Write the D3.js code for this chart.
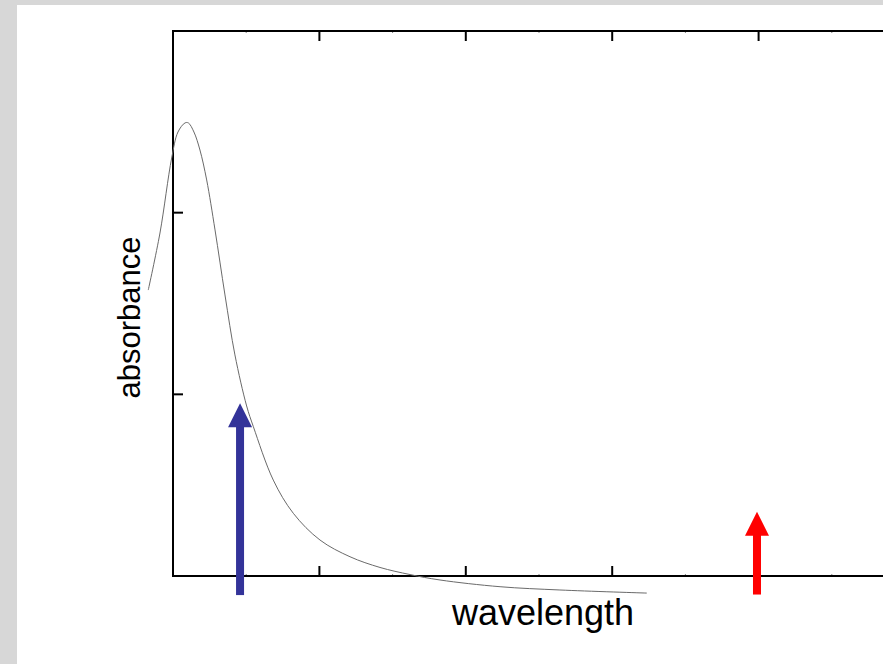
<!DOCTYPE html>
<html>
<head>
<meta charset="utf-8">
<script src="https://cdn.jsdelivr.net/npm/d3@7/dist/d3.min.js"></script>
<style>
  html, body { margin: 0; padding: 0; background: #d7d7d7; overflow: hidden; }
  #chart { position: absolute; left: 17px; top: 5px; width: 866px; height: 659px; background: #ffffff; }
</style>
</head>
<body>
<div id="chart"></div>
<script>
// absorbance spectrum (x and y in axis units)
var specX = [-0.169, -0.089, -0.009, 0.034, 0.082, 0.105, 0.143, 0.184, 0.230, 0.287, 0.355, 0.423,
  0.503, 0.549, 0.685, 0.822, 1.004, 1.209, 1.414, 1.619, 1.824, 2.234, 2.643, 3.236];
var specY = [1.574, 1.888, 2.301, 2.444, 2.494, 2.494, 2.444, 2.345, 2.180, 1.905, 1.547, 1.217,
  0.936, 0.822, 0.528, 0.345, 0.198, 0.106, 0.047, 0.008, -0.022, -0.059, -0.077, -0.094];

// the two excitation arrows
var arrowX = [0.458, 3.989];
var arrowTop = [0.951, 0.354];
var arrowBottom = [-0.105, -0.102];
var arrowColor = ["#333399", "#ff0000"];

var xTicks = [1, 2, 3, 4];
var xMinorTicks = [0.5, 1.5, 2.5, 3.5, 4.5];
var yTicks = [1, 2];
var xLabel = "wavelength";
var yLabel = "absorbance";

(function () {
  var width = 883, height = 664;
  var svg = d3.select("body").append("svg")
    .attr("width", width)
    .attr("height", height)
    .style("position", "absolute")
    .style("left", "0px")
    .style("top", "0px");

  var x = d3.scaleLinear().domain([0, 5]).range([173, 905]);
  var y = d3.scaleLinear().domain([0, 3]).range([576, 31]);

  var frame = svg.append("g")
    .attr("stroke", "#000")
    .attr("stroke-width", 2)
    .attr("fill", "none");

  frame.append("rect")
    .attr("x", x(0))
    .attr("y", y(3))
    .attr("width", x(5) - x(0))
    .attr("height", y(0) - y(3));

  // ticks on top and bottom edges, pointing in
  xTicks.forEach(function (t) {
    frame.append("line")
      .attr("x1", x(t)).attr("x2", x(t))
      .attr("y1", y(3)).attr("y2", y(3) + 10);
    frame.append("line")
      .attr("x1", x(t)).attr("x2", x(t))
      .attr("y1", y(0)).attr("y2", y(0) - 10);
  });

  // barely visible minor ticks
  xMinorTicks.forEach(function (t) {
    frame.append("line")
      .attr("stroke-width", 1)
      .attr("x1", x(t)).attr("x2", x(t))
      .attr("y1", y(3)).attr("y2", y(3) + 1.5);
    frame.append("line")
      .attr("stroke-width", 1)
      .attr("x1", x(t)).attr("x2", x(t))
      .attr("y1", y(0)).attr("y2", y(0) - 1.5);
  });

  yTicks.forEach(function (t) {
    frame.append("line")
      .attr("x1", x(0)).attr("x2", x(0) + 10)
      .attr("y1", y(t)).attr("y2", y(t));
  });

  var points = specX.map(function (v, i) {
    return [v, specY[i]];
  });

  var line = d3.line()
    .x(function (d) { return x(d[0]); })
    .y(function (d) { return y(d[1]); })
    .curve(d3.curveCatmullRom.alpha(0.5));

  svg.append("path")
    .datum(points)
    .attr("d", line)
    .attr("fill", "none")
    .attr("stroke", "#6a6a6a")
    .attr("stroke-width", 1);

  // arrows: shaft 8px, head 24px wide and 24px tall
  arrowX.forEach(function (ax, i) {
    var cx = x(ax);
    var top = y(arrowTop[i]);
    var bottom = y(arrowBottom[i]);
    var g = svg.append("g").attr("fill", arrowColor[i]);
    g.append("rect")
      .attr("x", cx - 4)
      .attr("y", top + 23)
      .attr("width", 8)
      .attr("height", bottom - top - 23);
    g.append("path")
      .attr("d", "M" + (cx - 12) + "," + (top + 24) +
        "L" + cx + "," + top +
        "L" + (cx + 12) + "," + (top + 24) + "Z");
  });

  svg.append("text")
    .attr("x", 543)
    .attr("y", 625)
    .attr("text-anchor", "middle")
    .attr("font-family", "'Liberation Sans', Arial, sans-serif")
    .attr("font-size", 36)
    .attr("fill", "#000")
    .text(xLabel);

  svg.append("text")
    .attr("transform", "translate(140,317.5) rotate(-90)")
    .attr("text-anchor", "middle")
    .attr("font-family", "'Liberation Sans', Arial, sans-serif")
    .attr("font-size", 31)
    .attr("fill", "#000")
    .text(yLabel);
}());
</script>
</body>
</html>
